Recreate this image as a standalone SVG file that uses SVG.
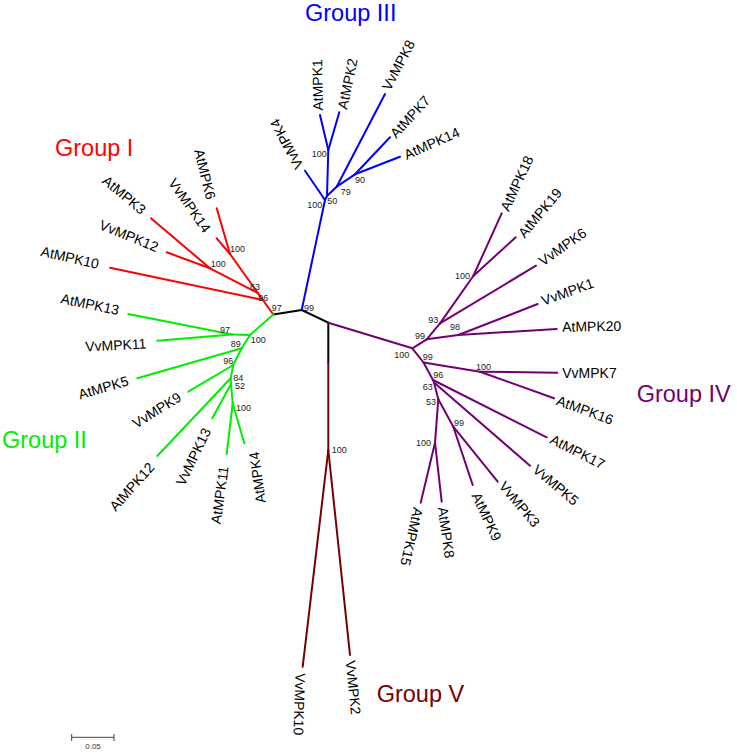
<svg xmlns="http://www.w3.org/2000/svg" width="737" height="754" viewBox="0 0 737 754">
<style>
.leaf{font-family:"Liberation Sans",Arial,sans-serif;font-size:14px;fill:#000;text-anchor:middle}
.bs{font-family:"Liberation Sans",Arial,sans-serif;font-size:9px;fill:#222}
.grp{font-family:"Liberation Sans",Arial,sans-serif;font-size:23.5px}
.e line{stroke-width:2;stroke-linecap:round}
.k line{stroke:#000}.r line{stroke:#ff0000}.g line{stroke:#00ee00}.b line{stroke:#0000ff}.p line{stroke:#720072}.v line{stroke:#760000}
</style>
<rect width="737" height="754" fill="#fff"/>
<g id="connectors" class="e">
 <g class="k">
  <line x1="273.3" y1="314.5" x2="301.7" y2="310"/>
  <line x1="301.7" y1="310" x2="328.3" y2="322.7"/>
  <line x1="328.3" y1="322.7" x2="328.3" y2="362.7"/>
 </g>
 <g class="r">
  <line x1="273.3" y1="314.5" x2="262.9" y2="300"/>
  <line x1="262.9" y1="300" x2="258.1" y2="293.3"/>
  <line x1="258.1" y1="293.3" x2="230" y2="254"/>
  <line x1="262.9" y1="300" x2="110" y2="267.7"/>
  <line x1="258.1" y1="293.3" x2="210" y2="268.3"/>
  <line x1="210" y1="268.3" x2="151" y2="218.3"/>
  <line x1="210" y1="268.3" x2="166.7" y2="252.3"/>
  <line x1="230" y1="254" x2="216.7" y2="208.3"/>
  <line x1="230" y1="254" x2="216.7" y2="238.3"/>
 </g>
 <g class="g">
  <line x1="273.3" y1="314.5" x2="250" y2="335"/>
  <line x1="250" y1="335" x2="232" y2="334.5"/>
  <line x1="232" y1="334.5" x2="128.3" y2="314"/>
  <line x1="232" y1="334.5" x2="157.3" y2="340.7"/>
  <line x1="250" y1="335" x2="241.7" y2="348.3"/>
  <line x1="241.7" y1="348.3" x2="137.3" y2="378.3"/>
  <line x1="241.7" y1="348.3" x2="233.3" y2="365"/>
  <line x1="233.3" y1="365" x2="188.3" y2="391.7"/>
  <line x1="233.3" y1="365" x2="230.7" y2="378.3"/>
  <line x1="230.7" y1="378.3" x2="157.3" y2="456"/>
  <line x1="230.7" y1="378.3" x2="231" y2="384"/>
  <line x1="231" y1="384" x2="212.3" y2="418.3"/>
  <line x1="231" y1="384" x2="232.7" y2="403.3"/>
  <line x1="232.7" y1="403.3" x2="226.7" y2="454"/>
  <line x1="232.7" y1="403.3" x2="244.3" y2="443.3"/>
 </g>
 <g class="b">
  <line x1="301.7" y1="310" x2="325" y2="200"/>
  <line x1="325" y1="200" x2="305" y2="170.7"/>
  <line x1="325" y1="200" x2="327" y2="196"/>
  <line x1="327" y1="196" x2="328.3" y2="150"/>
  <line x1="328.3" y1="150" x2="320" y2="115"/>
  <line x1="328.3" y1="150" x2="339.3" y2="112.3"/>
  <line x1="327" y1="196" x2="336.7" y2="186.7"/>
  <line x1="336.7" y1="186.7" x2="385" y2="94"/>
  <line x1="336.7" y1="186.7" x2="355" y2="174.3"/>
  <line x1="355" y1="174.3" x2="390" y2="137.3"/>
  <line x1="355" y1="174.3" x2="400" y2="156.7"/>
 </g>
 <g class="p">
  <line x1="328.3" y1="322.7" x2="412.3" y2="348.3"/>
  <line x1="412.3" y1="348.3" x2="426.7" y2="339.3"/>
  <line x1="426.7" y1="339.3" x2="458.3" y2="335"/>
  <line x1="458.3" y1="335" x2="556.7" y2="329"/>
  <line x1="458.3" y1="335" x2="537.7" y2="304"/>
  <line x1="426.7" y1="339.3" x2="440" y2="323.3"/>
  <line x1="440" y1="323.3" x2="536" y2="265.7"/>
  <line x1="440" y1="323.3" x2="473.3" y2="276"/>
  <line x1="473.3" y1="276" x2="501.7" y2="213.3"/>
  <line x1="473.3" y1="276" x2="515.7" y2="237.3"/>
  <line x1="412.3" y1="348.3" x2="423.5" y2="362.5"/>
  <line x1="423.5" y1="362.5" x2="480" y2="371.7"/>
  <line x1="480" y1="371.7" x2="557.3" y2="372.7"/>
  <line x1="480" y1="371.7" x2="554" y2="398.3"/>
  <line x1="423.5" y1="362.5" x2="433" y2="380"/>
  <line x1="433" y1="380" x2="546.7" y2="437.3"/>
  <line x1="433" y1="380" x2="434" y2="382.5"/>
  <line x1="434" y1="382.5" x2="530" y2="465.7"/>
  <line x1="434" y1="382.5" x2="438.3" y2="399.3"/>
  <line x1="438.3" y1="399.3" x2="453.3" y2="426.7"/>
  <line x1="453.3" y1="426.7" x2="472.7" y2="485"/>
  <line x1="453.3" y1="426.7" x2="497.7" y2="481.7"/>
  <line x1="438.3" y1="399.3" x2="435" y2="442.7"/>
  <line x1="435" y1="442.7" x2="420.7" y2="502.7"/>
  <line x1="435" y1="442.7" x2="441.7" y2="501.7"/>
 </g>
 <g class="v">
  <line x1="328.3" y1="362.7" x2="328.3" y2="450"/>
  <line x1="328.3" y1="450" x2="302.7" y2="666.7"/>
  <line x1="328.3" y1="450" x2="350" y2="655"/>
 </g>
</g>
<g id="leaves">
 <g id="AtMPK3" transform="translate(124.2,195) rotate(40)"><text class="leaf" y="5">AtMPK3</text></g>
 <g id="VvMPK12" transform="translate(129,235.8) rotate(22)"><text class="leaf" y="5">VvMPK12</text></g>
 <g id="AtMPK10" transform="translate(70,257.5) rotate(13)"><text class="leaf" y="5">AtMPK10</text></g>
 <g id="VvMPK14" transform="translate(189.8,205.5) rotate(55)"><text class="leaf" y="5">VvMPK14</text></g>
 <g id="AtMPK6" transform="translate(205,174.2) rotate(76)"><text class="leaf" y="5">AtMPK6</text></g>
 <g id="AtMPK13" transform="translate(90,304.2) rotate(12)"><text class="leaf" y="5">AtMPK13</text></g>
 <g id="VvMPK11" transform="translate(115.8,345) rotate(-3)"><text class="leaf" y="5">VvMPK11</text></g>
 <g id="AtMPK5" transform="translate(103.3,387.5) rotate(-16)"><text class="leaf" y="5">AtMPK5</text></g>
 <g id="VvMPK9" transform="translate(156.7,410) rotate(-32)"><text class="leaf" y="5">VvMPK9</text></g>
 <g id="AtMPK12" transform="translate(131.7,486.7) rotate(-48)"><text class="leaf" y="5">AtMPK12</text></g>
 <g id="VvMPK13" transform="translate(193.3,456.7) rotate(-64)"><text class="leaf" y="5">VvMPK13</text></g>
 <g id="AtMPK11" transform="translate(219.7,495) rotate(-82)"><text class="leaf" y="5">AtMPK11</text></g>
 <g id="AtMPK4" transform="translate(257.2,477.5) rotate(-98)"><text class="leaf" y="5">AtMPK4</text></g>
 <g id="AtMPK1" transform="translate(317.5,85) rotate(-91)"><text class="leaf" y="5">AtMPK1</text></g>
 <g id="AtMPK2" transform="translate(347.5,83.8) rotate(-78)"><text class="leaf" y="5">AtMPK2</text></g>
 <g id="VvMPK8" transform="translate(398.3,65) rotate(-62)"><text class="leaf" y="5">VvMPK8</text></g>
 <g id="AtMPK7" transform="translate(410,116.7) rotate(-47)"><text class="leaf" y="5">AtMPK7</text></g>
 <g id="AtMPK14" transform="translate(431.7,143.3) rotate(-24)"><text class="leaf" y="5">AtMPK14</text></g>
 <g id="VvMPK4" transform="translate(286.5,144) rotate(-118)"><text class="leaf" y="5">VvMPK4</text></g>
 <g id="AtMPK18" transform="translate(516.7,183.3) rotate(-65)"><text class="leaf" y="5">AtMPK18</text></g>
 <g id="AtMPK19" transform="translate(540,212.8) rotate(-50)"><text class="leaf" y="5">AtMPK19</text></g>
 <g id="VvMPK6" transform="translate(562.5,246.7) rotate(-35)"><text class="leaf" y="5">VvMPK6</text></g>
 <g id="VvMPK1" transform="translate(567.5,291.7) rotate(-20)"><text class="leaf" y="5">VvMPK1</text></g>
 <g id="AtMPK20" transform="translate(591.7,326.3) rotate(-1)"><text class="leaf" y="5">AtMPK20</text></g>
 <g id="VvMPK7" transform="translate(589.5,372.5)"><text class="leaf" y="5">VvMPK7</text></g>
 <g id="AtMPK16" transform="translate(585,410) rotate(20)"><text class="leaf" y="5">AtMPK16</text></g>
 <g id="AtMPK17" transform="translate(577.5,451.7) rotate(27)"><text class="leaf" y="5">AtMPK17</text></g>
 <g id="VvMPK5" transform="translate(555.8,485) rotate(40)"><text class="leaf" y="5">VvMPK5</text></g>
 <g id="VvMPK3" transform="translate(519.5,504.2) rotate(50)"><text class="leaf" y="5">VvMPK3</text></g>
 <g id="AtMPK9" transform="translate(486.7,516.7) rotate(65)"><text class="leaf" y="5">AtMPK9</text></g>
 <g id="AtMPK8" transform="translate(446.3,532.5) rotate(82)"><text class="leaf" y="5">AtMPK8</text></g>
 <g id="AtMPK15" transform="translate(411.7,536.7) rotate(103)"><text class="leaf" y="5">AtMPK15</text></g>
 <g id="VvMPK10" transform="translate(299.5,704.2) rotate(92)"><text class="leaf" y="5">VvMPK10</text></g>
 <g id="VvMPK2" transform="translate(353.3,687.5) rotate(84)"><text class="leaf" y="5">VvMPK2</text></g>
</g>
<g id="bootstrap" class="bs">
 <text class="bs" x="230" y="251.5">100</text>
 <text class="bs" x="210.7" y="266.5">100</text>
 <text class="bs" x="250" y="290">63</text>
 <text class="bs" x="258.3" y="300.5">96</text>
 <text class="bs" x="271.7" y="310.5">97</text>
 <text class="bs" x="304" y="310.5">99</text>
 <text class="bs" x="311.7" y="157">100</text>
 <text class="bs" x="307.3" y="208">100</text>
 <text class="bs" x="327.3" y="204">50</text>
 <text class="bs" x="340.7" y="195">79</text>
 <text class="bs" x="355" y="183">90</text>
 <text class="bs" x="220" y="332.5">97</text>
 <text class="bs" x="250.7" y="342.5">100</text>
 <text class="bs" x="230.7" y="347.3">89</text>
 <text class="bs" x="223.3" y="364.3">96</text>
 <text class="bs" x="233.3" y="380.7">84</text>
 <text class="bs" x="235" y="389.3">52</text>
 <text class="bs" x="236" y="410.7">100</text>
 <text class="bs" x="331.7" y="452.5">100</text>
 <text class="bs" x="394.3" y="358.3">100</text>
 <text class="bs" x="415" y="339.3">99</text>
 <text class="bs" x="428.3" y="323.3">93</text>
 <text class="bs" x="450" y="330">98</text>
 <text class="bs" x="455" y="279.3">100</text>
 <text class="bs" x="422.7" y="360">99</text>
 <text class="bs" x="476" y="370">100</text>
 <text class="bs" x="433.3" y="378.3">96</text>
 <text class="bs" x="422.7" y="390">63</text>
 <text class="bs" x="426" y="405">53</text>
 <text class="bs" x="454" y="426">99</text>
 <text class="bs" x="416" y="446">100</text>
</g>
<g id="GroupI"><text class="grp" x="55" y="155.5" fill="#ff0000">Group I</text></g>
<g id="GroupII"><text class="grp" x="2" y="447.5" fill="#00ee00">Group II</text></g>
<g id="GroupIII"><text class="grp" x="305" y="21" fill="#0000ff">Group III</text></g>
<g id="GroupIV"><text class="grp" x="636.7" y="401.5" fill="#720072">Group IV</text></g>
<g id="GroupV"><text class="grp" x="376.7" y="701.5" fill="#760000">Group V</text></g>
<g id="scalebar" stroke="#444" stroke-width="1">
 <line x1="71.7" y1="737.3" x2="114" y2="737.3"/>
 <line x1="71.7" y1="734" x2="71.7" y2="741"/>
 <line x1="114" y1="734" x2="114" y2="741"/>
 <text x="93" y="749" stroke="none" fill="#333" font-family="Liberation Sans, Arial, sans-serif" font-size="8" text-anchor="middle">0.05</text>
</g>
</svg>
